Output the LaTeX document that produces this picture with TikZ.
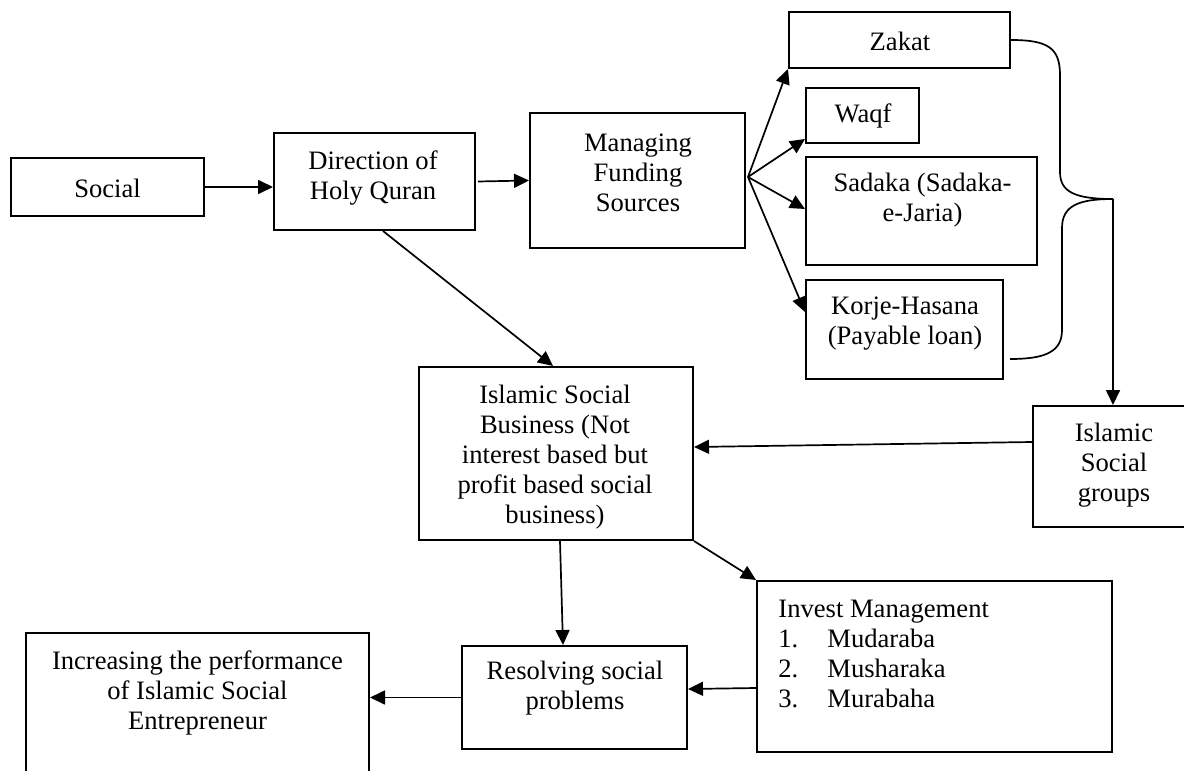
\documentclass[tikz,border=0pt]{standalone}
\usepackage{fontspec}
\setmainfont{Liberation Serif}
\usetikzlibrary{arrows.meta,calc}
\tikzset{
  box/.style={draw, line width=1pt, inner sep=0pt},
  txt/.style={align=center, inner sep=0pt, font=\fontsize{13.3}{15}\selectfont},
  arr/.style={line width=0.85pt, -{Triangle[length=7.5pt,width=7pt]}},
  bline/.style={line width=0.85pt}
}
\begin{document}
\begin{tikzpicture}[x=0.5pt,y=-0.5pt]
\useasboundingbox (0,0) rectangle (1184,771);
\clip (0,0) rectangle (1184,771);
% boxes
\node[box, minimum width=96.5pt, minimum height=29pt] (social) at (107.5,187) {};
\node[box, minimum width=100.5pt, minimum height=48.5pt] (direction) at (374.5,181.5) {};
\node[box, minimum width=107.5pt, minimum height=67.5pt] (managing) at (637.5,180.5) {};
\node[box, minimum width=110.5pt, minimum height=28pt] (zakat) at (899.5,40) {};
\node[box, minimum width=56.5pt, minimum height=27.5pt] (waqf) at (862.5,115.5) {};
\node[box, minimum width=115.5pt, minimum height=54pt] (sadaka) at (921.5,211) {};
\node[box, minimum width=98.5pt, minimum height=49.5pt] (korje) at (904.5,329.5) {};
\node[box, minimum width=78.5pt, minimum height=60.5pt] (isg) at (1111.5,466.5) {};
\node[box, minimum width=137pt, minimum height=86.5pt] (isb) at (556,453.5) {};
\node[box, minimum width=177.5pt, minimum height=85.5pt] (invest) at (934.5,666.5) {};
\node[box, minimum width=112.5pt, minimum height=51.5pt] (resolving) at (574.5,697.5) {};
\node[box, minimum width=171.5pt, minimum height=78.5pt] (increasing) at (197.5,711.5) {};
% texts
\node[txt] (t-social) at (107.5,188) {Social};
\node[txt] (t-direction) at (373,178) {Direction of\\Holy Quran};
\node[txt] (t-managing) at (638,173) {Managing\\Funding\\Sources};
\node[txt] (t-zakat) at (900,41) {Zakat};
\node[txt] (t-waqf) at (863,116) {Waqf};
\node[txt] (t-sadaka) at (922.5,200) {Sadaka (Sadaka-\\e-Jaria)};
\node[txt] (t-korje) at (905,324) {Korje-Hasana\\(Payable loan)};
\node[txt] (t-isb) at (555,457) {Islamic Social\\Business (Not\\interest based but\\profit based social\\business)};
\node[txt] (t-isg) at (1114,465) {Islamic\\Social\\groups};
\node[txt] (t-resolving) at (575,688) {Resolving social\\problems};
\node[txt] (t-increasing) at (197.5,693) {Increasing the performance\\of Islamic Social\\Entrepreneur};
\node[txt, align=left, anchor=north west] (t-invest) at (778,600) {Invest Management\\\makebox[24.5pt][l]{1.}Mudaraba\\\makebox[24.5pt][l]{2.}Musharaka\\\makebox[24.5pt][l]{3.}Murabaha};
% connectors
\draw[arr] (social.east) -- (social.east -| direction.west);
\draw[arr] ($(direction.east)+(2,0)$) -- (managing.west);
\draw[arr] ($(direction.south)+(8.5,0)$) -- ($(isb.north)+(-3,0)$);
\coordinate (fan) at ($(managing.east)+(2,-3.5)$);
\draw[arr] (fan) -- (zakat.south west);
\draw[arr] (fan) -- ($(waqf.south west)+(0,-5)$);
\draw[arr] (fan) -- ($(sadaka.west)+(0,-2)$);
\draw[arr] (fan) -- ($(korje.north west)+(0,33)$);
% brace
\coordinate (tip) at (1113,199);
\draw[bline] (zakat.east) .. controls (1048,40) and (1060,48) .. (1060,75) -- (1060,172) .. controls (1060,192) and (1075,199) .. (tip);
\draw[bline] (tip) .. controls (1078,199) and (1062,206) .. (1062,228) -- (1062,330) .. controls (1062,352) and (1045,359) .. ($(korje.east)+(6,29.5)$);
\draw[arr] (tip) -- (tip |- isg.north);
\draw[arr] ($(isg.north west)+(0,37)$) -- ($(isb.north east)+(0,81)$);
\draw[arr] ($(isb.south)+(4,0)$) -- ($(resolving.north)+(-11.5,0)$);
\draw[arr] (isb.south east) -- (invest.north west);
\draw[arr] ($(invest.north west)+(0,108)$) -- ($(resolving.north east)+(0,44)$);
\draw[arr] (resolving.west) -- (resolving.west -| increasing.east);
\end{tikzpicture}
\end{document}
